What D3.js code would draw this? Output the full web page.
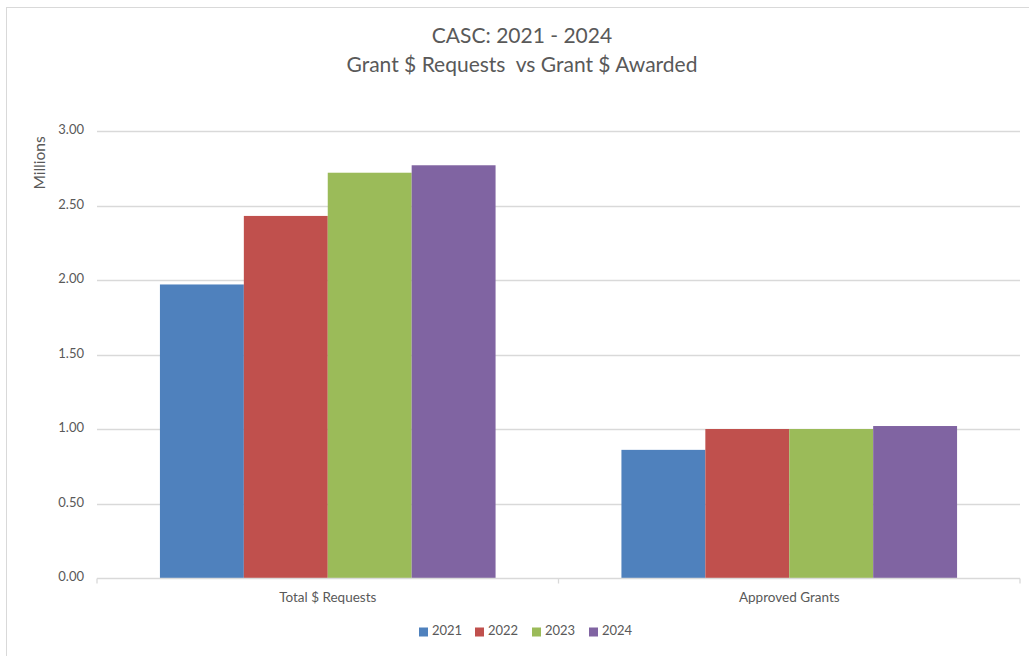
<!DOCTYPE html>
<html>
<head>
<meta charset="utf-8">
<script src="https://cdn.jsdelivr.net/npm/d3@7"></script>
<style>
  body { margin: 0; background: #fff; }
  svg { display: block; }
</style>
</head>
<body>
<svg id="main"></svg>
<script>
const width = 1029;
const height = 656;

// DATA -------------------------------------------
const categories = ['Total $ Requests', 'Approved Grants'];
const years = ['2021', '2022', '2023', '2024'];
const values2021 = [1.97, 0.86];
const values2022 = [2.43, 1.00];
const values2023 = [2.72, 1.00];
const values2024 = [2.77, 1.02];
const yTicks = [0, 0.5, 1, 1.5, 2, 2.5, 3];
const colors = ['#4f81bd', '#c0504d', '#9bbb59', '#8064a2'];

const series = [values2021, values2022, values2023, values2024];

const margin = {
    left: 97,
    right: 9,
    top: 131,
    bottom: 78,
};

const font = 'Lato, "Open Sans", sans-serif';
const textColor = '#595959';

const svg = d3.select('svg#main')
    .attr('width', width)
    .attr('height', height)

// chart frame
svg.append('rect')
    .attr('x', 6.5)
    .attr('y', 7.5)
    .attr('width', width + 10)
    .attr('height', height + 10)
    .attr('fill', 'white')
    .attr('stroke', '#d9d9d9')

const x0 = d3.scaleBand()
    .domain(categories)
    .range([margin.left, width - margin.right])

// gap width 150% of a bar -> 0.75 bar on each side
const x1 = d3.scaleBand()
    .domain(years)
    .range([0, x0.bandwidth()])
    .paddingOuter(0.75)
    .paddingInner(0)

const y = d3.scaleLinear()
    .domain([0, 3])
    .range([height - margin.bottom, margin.top])

// gridlines
svg.append('g')
    .selectAll('line')
    .data(yTicks.filter(d => d > 0))
    .enter()
    .append('line')
    .attr('x1', margin.left)
    .attr('x2', width - margin.right)
    .attr('y1', d => Math.round(y(d)) + 0.5)
    .attr('y2', d => Math.round(y(d)) + 0.5)
    .attr('stroke', '#d9d9d9')
    .attr('stroke-width', 1.3)

// y tick labels
svg.append('g')
    .selectAll('text')
    .data(yTicks)
    .enter()
    .append('text')
    .text(d => d3.format('.2f')(d))
    .attr('x', 84)
    .attr('y', d => y(d))
    .attr('text-anchor', 'end')
    .attr('dominant-baseline', 'middle')
    .style('font-family', font)
    .style('font-size', '13px')
    .style('fill', textColor)

// bars
const groups = svg.append('g')
    .selectAll('g')
    .data(categories)
    .enter()
    .append('g')
    .attr('transform', d => `translate(${x0(d)},0)`)

groups.selectAll('rect')
    .data((d, i) => years.map((yr, j) => ({ year: yr, value: series[j][i], color: colors[j] })))
    .enter()
    .append('rect')
    .attr('x', d => x1(d.year))
    .attr('width', x1.bandwidth())
    .attr('y', d => y(d.value))
    .attr('height', d => y(0) - y(d.value))
    .attr('fill', d => d.color)

// x axis line + ticks
const axisY = Math.round(y(0)) + 0.5;
svg.append('line')
    .attr('x1', margin.left)
    .attr('x2', width - margin.right)
    .attr('y1', axisY)
    .attr('y2', axisY)
    .attr('stroke', '#d9d9d9')
    .attr('stroke-width', 1.3)

svg.append('g')
    .selectAll('line')
    .data([...categories.map(c => x0(c)), width - margin.right])
    .enter()
    .append('line')
    .attr('x1', d => d)
    .attr('x2', d => d)
    .attr('y1', axisY)
    .attr('y2', axisY + 5)
    .attr('stroke', '#d9d9d9')
    .attr('stroke-width', 1.3)

// category labels
svg.append('g')
    .selectAll('text')
    .data(categories)
    .enter()
    .append('text')
    .text(d => d)
    .attr('x', d => x0(d) + x0.bandwidth() / 2)
    .attr('y', 599)
    .attr('text-anchor', 'middle')
    .attr('dominant-baseline', 'middle')
    .style('font-family', font)
    .style('font-size', '13.5px')
    .style('fill', textColor)

// y axis title
svg.append('text')
    .text('Millions')
    .attr('transform', 'translate(41,163) rotate(-90)')
    .attr('text-anchor', 'middle')
    .attr('dominant-baseline', 'middle')
    .style('font-family', font)
    .style('font-size', '15.5px')
    .style('fill', textColor)

// title
const titleLines = ['CASC: 2021 - 2024', 'Grant $ Requests  vs Grant $ Awarded'];
svg.append('g')
    .selectAll('text')
    .data(titleLines)
    .enter()
    .append('text')
    .text(d => d)
    .attr('x', 522)
    .attr('y', (d, i) => 38 + i * 29)
    .attr('text-anchor', 'middle')
    .attr('dominant-baseline', 'middle')
    .attr('xml:space', 'preserve')
    .style('white-space', 'pre')
    .style('font-family', font)
    .style('font-size', '21px')
    .style('fill', textColor)

// legend
const legendX = [419, 475, 532, 589];
const legend = svg.append('g')
    .selectAll('g')
    .data(years)
    .enter()
    .append('g')
    .attr('transform', (d, i) => `translate(${legendX[i]},632)`)

legend.append('rect')
    .attr('x', 0)
    .attr('y', -4.5)
    .attr('width', 9)
    .attr('height', 9)
    .attr('fill', (d, i) => colors[i])

legend.append('text')
    .text(d => d)
    .attr('x', 13)
    .attr('y', 0)
    .attr('dominant-baseline', 'middle')
    .style('font-family', font)
    .style('font-size', '13px')
    .style('fill', textColor)
</script>
</body>
</html>
